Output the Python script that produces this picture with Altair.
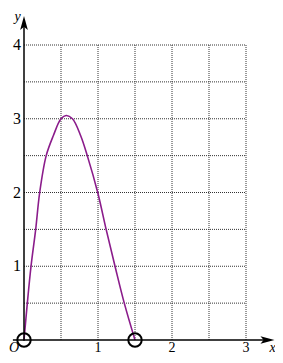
import altair as alt
import pandas as pd

# curve
curve_x = [0.0, 0.045, 0.095, 0.158, 0.212, 0.30, 0.396, 0.50, 0.57, 0.655, 0.766, 0.855, 0.996, 1.11, 1.23, 1.355, 1.5]
curve_y = [0.0, 0.5, 1.0, 1.5, 2.0, 2.5, 2.77, 3.0, 3.045, 3.0, 2.77, 2.5, 2.0, 1.5, 1.0, 0.5, 0.0]

grid_x = [0.5, 1.0, 1.5, 2.0, 2.5, 3.0]
grid_y = [0.5, 1.0, 1.5, 2.0, 2.5, 3.0, 3.5, 4.0]
x_ticks = [1, 2, 3]
y_ticks = [1, 2, 3, 4]
x_tick_labels = ["1", "2", "3"]
y_tick_labels = ["1", "2", "3", "4"]
hollow_x = [0.0, 1.5]
hollow_y = [0.0, 0.0]

XS = alt.Scale(domain=[0, 3], nice=False, zero=False)
YS = alt.Scale(domain=[0, 4], nice=False, zero=False)


def X(f):
    return alt.X(f, type="quantitative", scale=XS, axis=None)


def Y(f):
    return alt.Y(f, type="quantitative", scale=YS, axis=None)


FONT = "Liberation Serif"

vgrid = alt.Chart(pd.DataFrame({"gx": grid_x, "y0": 0.0, "y1": 4.0})).mark_rule(
    color="#333333", strokeDash=[1, 1], strokeWidth=1
).encode(x=X("gx"), y=Y("y0"), y2=alt.Y2("y1"))

hgrid = alt.Chart(pd.DataFrame({"gy": grid_y, "x0": 0.0, "x1": 3.0})).mark_rule(
    color="#333333", strokeDash=[1, 1], strokeWidth=1
).encode(y=Y("gy"), x=X("x0"), x2=alt.X2("x1"))

xaxis = alt.Chart(pd.DataFrame({"a": [-0.15], "b": [3.29], "y": [0.0]})).mark_rule(
    color="black", strokeWidth=1.5
).encode(x=X("a"), x2=alt.X2("b"), y=Y("y"))

yaxis = alt.Chart(pd.DataFrame({"a": [-0.01], "b": [4.3], "x": [0.0]})).mark_rule(
    color="black", strokeWidth=1.5
).encode(y=Y("a"), y2=alt.Y2("b"), x=X("x"))

ARROW = "M1,0 L-1,-0.55 L-0.55,0 L-1,0.55 Z"
xarrow = alt.Chart(pd.DataFrame({"x": [3.29], "y": [0.0]})).mark_point(
    shape=ARROW, filled=True, color="black", opacity=1, size=196
).encode(x=X("x"), y=Y("y"))
yarrow = alt.Chart(pd.DataFrame({"x": [0.0], "y": [4.3]})).mark_point(
    shape=ARROW, filled=True, color="black", opacity=1, size=196, angle=270
).encode(x=X("x"), y=Y("y"))

curve = alt.Chart(pd.DataFrame({"x": curve_x, "y": curve_y, "o": list(range(len(curve_x)))})).mark_line(
    color="#8B1C8B", strokeWidth=1.6, interpolate="catmull-rom"
).encode(x=X("x"), y=Y("y"), order="o:Q")

hollow = alt.Chart(pd.DataFrame({"x": hollow_x, "y": hollow_y})).mark_point(
    shape="circle", filled=False, color="black", strokeWidth=2, size=180, opacity=1
).encode(x=X("x"), y=Y("y"))

xlabels = alt.Chart(pd.DataFrame({"x": x_ticks, "t": x_tick_labels, "y": -0.156})).mark_text(
    font=FONT, fontSize=14, color="black", baseline="alphabetic", align="center"
).encode(x=X("x"), y=Y("y"), text="t:N")

ylabels = alt.Chart(pd.DataFrame({"y": y_ticks, "t": y_tick_labels, "x": -0.04})).mark_text(
    font=FONT, fontSize=16, color="black", baseline="middle", align="right"
).encode(x=X("x"), y=Y("y"), text="t:N")

names = alt.Chart(pd.DataFrame({
    "x": [-0.135, 3.36, -0.085],
    "y": [-0.156, -0.156, 4.325],
    "t": ["O", "x", "y"],
})).mark_text(
    font=FONT, fontSize=14, fontStyle="italic", color="black", baseline="alphabetic", align="center"
).encode(x=X("x"), y=Y("y"), text="t:N")

chart = alt.layer(
    vgrid, hgrid, curve, xaxis, yaxis, xarrow, yarrow, hollow, xlabels, ylabels, names
).properties(
    width=222, height=295,
    autosize=alt.AutoSizeParams(type="none"),
    padding={"left": 16, "top": 37, "right": 29, "bottom": 15},
    background="white",
).configure_view(stroke=None)

chart.save("out.html", embed_options={"renderer": "svg", "actions": False})
